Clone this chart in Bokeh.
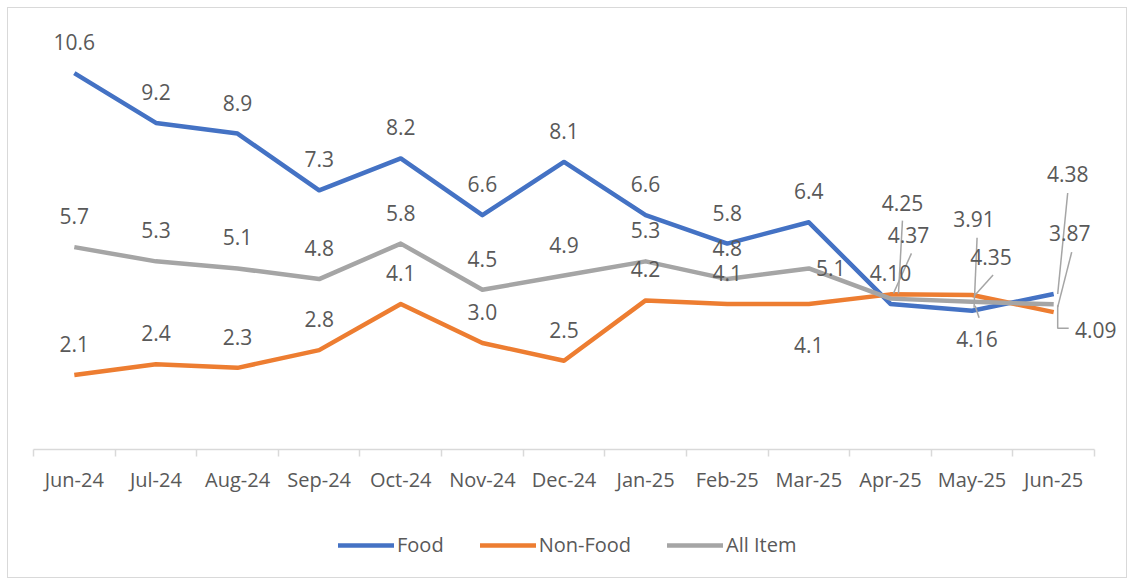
from bokeh.plotting import figure
from bokeh.layouts import column
from bokeh.models import (ColumnDataSource, LabelSet, FixedTicker, Range1d,
                          Legend, LegendItem)
from bokeh.core.properties import value
from bokeh.embed import file_html
from bokeh.resources import INLINE

months = ["Jun-24", "Jul-24", "Aug-24", "Sep-24", "Oct-24", "Nov-24", "Dec-24",
          "Jan-25", "Feb-25", "Mar-25", "Apr-25", "May-25", "Jun-25"]
food = [10.6, 9.2, 8.9, 7.3, 8.2, 6.6, 8.1, 6.6, 5.8, 6.4, 4.10, 3.91, 4.38]
non_food = [2.1, 2.4, 2.3, 2.8, 4.1, 3.0, 2.5, 4.2, 4.1, 4.1, 4.37, 4.35, 3.87]
all_item = [5.7, 5.3, 5.1, 4.8, 5.8, 4.5, 4.9, 5.3, 4.8, 5.1, 4.25, 4.16, 4.09]
food_lbl = ["10.6", "9.2", "8.9", "7.3", "8.2", "6.6", "8.1", "6.6", "5.8", "6.4", "4.10", "3.91", "4.38"]
non_food_lbl = ["2.1", "2.4", "2.3", "2.8", "4.1", "3.0", "2.5", "4.2", "4.1", "4.1", "4.37", "4.35", "3.87"]
all_item_lbl = ["5.7", "5.3", "5.1", "4.8", "5.8", "4.5", "4.9", "5.3", "4.8", "5.1", "4.25", "4.16", "4.09"]
series_names = ["Food", "Non-Food", "All Item"]

# ---- layout / style constants ----
W = 1118
H1, H2 = 492, 77
FL, FT, FH = 25, 15, 426
AXIS_W = 1061
FW = W - FL - 1
YMAX = 12
N = len(months)
PX_X = AXIS_W / N   # pixels per x unit
PX_Y = FH / YMAX    # pixels per y unit
TXT = "#595959"
FONT = "Open Sans"
COLORS = ["#4472C4", "#ED7D31", "#A5A5A5"]
LW = 4.5

# label offsets in px (dx right, dy up), default above the point
DEF = (0, 31)
food_off = [DEF] * 10 + [DEF, (2, 92), (14, 120)]
non_food_off = [DEF] * 9 + [(0, -41), (18, 59), (19, 38), (16, 79)]
all_item_off = [DEF] * 9 + [(22, 0), (12, 96), (5, -37), (42, -26)]

# leader lines: (series index, point index, list of px offsets from point)
leaders = [
    (2, 10, [(12, 78), (8, 5)]),
    (1, 10, [(21, 41), (3, 1)]),
    (0, 11, [(5, 73), (2, 3)]),
    (1, 11, [(21, 20), (3, 0)]),
    (2, 11, [(7, -16), (3, -4)]),
    (0, 12, [(14, 101), (4, 0)]),
    (1, 12, [(18, 60), (4, 5)]),
    (2, 12, [(15, -24), (4, -24), (4, -1)]),
]

xs = list(range(1, N + 1))
series = [food, non_food, all_item]

p = figure(width=W, height=H1, output_backend="svg", toolbar_location=None,
           x_range=Range1d(0.5, 0.5 + FW / PX_X), y_range=Range1d(0, YMAX),
           y_axis_location=None, min_border_left=FL, min_border_top=FT,
           min_border_right=W - FL - FW, min_border_bottom=H1 - FT - FH,
           background_fill_color="white", border_fill_color="white",
           outline_line_color=None)
p.xgrid.visible = False
p.ygrid.visible = False

ax = p.xaxis[0]
ax.bounds = (0.5, N + 0.5)
ax.ticker = FixedTicker(ticks=xs, minor_ticks=[i + 0.5 for i in range(0, N + 1)])
ax.major_label_overrides = {i: m for i, m in zip(xs, months)}
ax.major_tick_out = 0
ax.major_tick_in = 0
ax.minor_tick_out = 7
ax.minor_tick_in = 0
ax.minor_tick_line_color = "#d9d9d9"
ax.minor_tick_line_width = 1.5
ax.axis_line_color = "#d9d9d9"
ax.axis_line_width = 1.5
ax.major_label_text_font = FONT
ax.major_label_text_font_size = "20px"
ax.major_label_text_color = TXT
ax.major_label_standoff = 9

for vals, c in zip(series, COLORS):
    p.line(xs, vals, line_color=c, line_width=LW, line_join="round")

# leader lines
lx, ly = [], []
for s, i, pts in leaders:
    x0, y0 = xs[i], series[s][i]
    lx.append([x0 + dx / PX_X for dx, dy in pts])
    ly.append([y0 + dy / PX_Y for dx, dy in pts])
p.multi_line(lx, ly, line_color="#A5A5A5", line_width=1.5)

for vals, lbls, offs in [(food, food_lbl, food_off),
                         (non_food, non_food_lbl, non_food_off),
                         (all_item, all_item_lbl, all_item_off)]:
    src = ColumnDataSource(dict(x=xs, y=vals, t=lbls,
                                dx=[o[0] for o in offs], dy=[o[1] for o in offs]))
    ls = LabelSet(x="x", y="y", text="t", source=src, x_offset="dx", y_offset="dy",
                  text_align="center", text_baseline="middle",
                  text_font=value(FONT), text_font_size=value("21px"),
                  text_color=value(TXT))
    p.add_layout(ls)

# legend strip (series drawn outside its visible range; only the legend shows)
lf = figure(width=W, height=H2, output_backend="svg", toolbar_location=None,
            x_range=Range1d(-2, -1), y_range=Range1d(-2, -1),
            x_axis_location=None, y_axis_location=None,
            min_border=0, outline_line_color=None,
            background_fill_color="white", border_fill_color="white")
lf.xgrid.visible = False
lf.ygrid.visible = False
items = []
for name, vals, c in zip(series_names, series, COLORS):
    r = lf.line(xs, vals, line_color=c, line_width=LW, line_cap="round")
    items.append(LegendItem(label=name, renderers=[r]))
legend = Legend(items=items, orientation="horizontal", location=(305, 19),
                glyph_width=56, glyph_height=20, label_standoff=3, spacing=36,
                padding=0, margin=0, border_line_color=None,
                background_fill_alpha=0,
                label_text_font=FONT, label_text_font_size="20px",
                label_text_color=TXT)
lf.add_layout(legend)

layout = column(p, lf, spacing=0)
layout.styles = {"border": "1px solid #d9d9d9", "margin-left": "7px", "margin-top": "7px"}

open("out.html", "w").write(file_html(layout, INLINE))
